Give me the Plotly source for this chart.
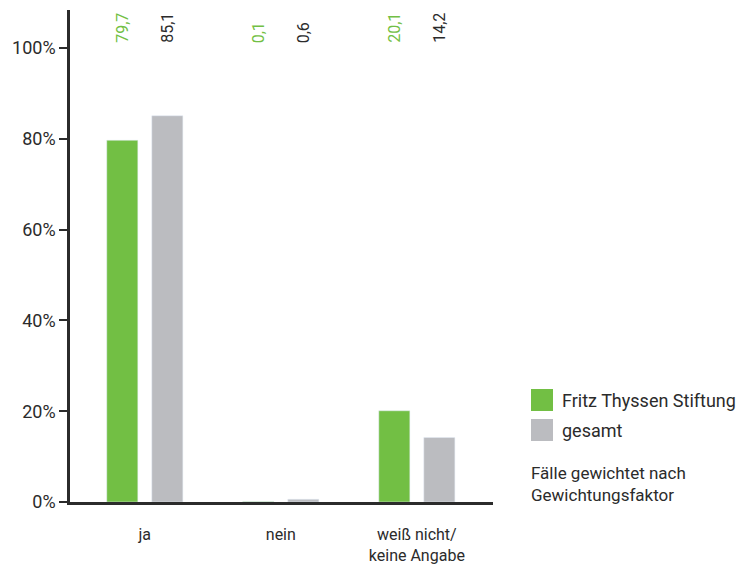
import plotly.graph_objects as go

categories = ["ja", "nein", "weiß nicht/<br>keine Angabe"]
fts_values = [79.7, 0.1, 20.1]
gesamt_values = [85.1, 0.6, 14.2]
series_names = ["Fritz Thyssen Stiftung", "gesamt"]
y_ticks = [0, 20, 40, 60, 80, 100]
note_text = "Fälle gewichtet nach<br>Gewichtungsfaktor"

GREEN = "#72bf44"
GRAY = "#bbbcc0"
DARK = "#2b2b2b"
FONT = "Roboto, 'Open Sans', sans-serif"

fig = go.Figure()
fig.add_trace(go.Bar(x=categories, y=fts_values, name=series_names[0],
                     marker_color=GREEN, showlegend=False))
fig.add_trace(go.Bar(x=categories, y=gesamt_values, name=series_names[1],
                     marker_color=GRAY, showlegend=False))

def fmt(v):
    return f"{v:.1f}".replace(".", ",")

for i, (a, b) in enumerate(zip(fts_values, gesamt_values)):
    fig.add_annotation(x=i, y=100.7, xref="x", yref="y", text=fmt(a),
                       textangle=-90, showarrow=False, xshift=-22,
                       yanchor="bottom", font=dict(color=GREEN, size=16, family=FONT))
    fig.add_annotation(x=i, y=100.7, xref="x", yref="y", text=fmt(b),
                       textangle=-90, showarrow=False, xshift=23,
                       yanchor="bottom", font=dict(color=DARK, size=16, family=FONT))

# manual legend
W, H = 741, 564
def px_x(px):
    return (px - 70) / (493 - 70)
def px_y(py):
    return (502 - py) / (502 - 10)

legend_items = [(series_names[0], GREEN, 389), (series_names[1], GRAY, 419)]
for name, col, top in legend_items:
    fig.add_shape(type="rect", xref="paper", yref="paper",
                  x0=px_x(531), x1=px_x(553), y0=px_y(top + 22), y1=px_y(top),
                  fillcolor=col, line_width=0)
    fig.add_annotation(xref="paper", yref="paper", x=px_x(560), y=px_y(top + 11),
                       xanchor="left", yanchor="middle", text=name, showarrow=False,
                       font=dict(color=DARK, size=18, family=FONT))
fig.add_annotation(xref="paper", yref="paper", x=px_x(529), y=px_y(461),
                   xanchor="left", yanchor="top", text=note_text, showarrow=False,
                   align="left", font=dict(color=DARK, size=17, family=FONT))

fig.update_layout(
    width=W, height=H,
    margin=dict(l=70, r=248, t=10, b=62),
    paper_bgcolor="white", plot_bgcolor="white",
    barmode="group", bargap=0.338, bargroupgap=0.31,
    font=dict(family=FONT, size=17, color=DARK),
    separators=",.",
)
fig.update_yaxes(range=[0, 108.4], tickvals=y_ticks, ticktext=[f"{t}%" for t in y_ticks],
                 showgrid=False, zeroline=False, showline=True, linecolor=DARK, linewidth=2.5,
                 ticks="outside", ticklen=8, tickwidth=2, tickcolor=DARK, automargin=False,
                 tickfont=dict(size=18, color=DARK, family=FONT))
fig.update_xaxes(range=[-0.55, 2.56], showgrid=False, showline=True, linecolor=DARK,
                 linewidth=2.5, ticks="", ticklabelstandoff=16, automargin=False,
                 tickfont=dict(size=16, color=DARK, family=FONT))

fig.write_html("out.html")
